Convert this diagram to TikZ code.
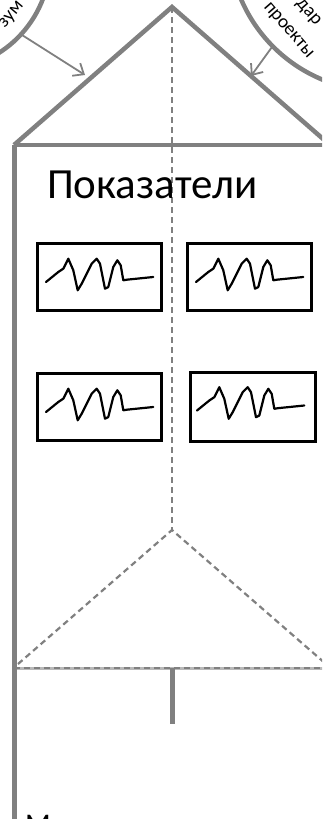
\documentclass[tikz,border=0pt]{standalone}
\usepackage{fontspec}
\setmainfont{Carlito}
\usetikzlibrary{arrows.meta}
\definecolor{wallgray}{RGB}{128,128,128}
\definecolor{palegray}{RGB}{185,185,185}
\tikzset{
  wall/.style={draw=wallgray, line width=5pt},
  roofline/.style={draw=wallgray, line width=4.5pt, line join=miter},
  fold/.style={draw=wallgray, line width=2.2pt, dash pattern=on 6pt off 4pt},
  ring/.style={draw=wallgray, line width=4.5pt},
  pointer/.style={draw=wallgray, line width=1.8pt, -{Straight Barb[length=9pt,width=15pt,line width=1.8pt]}},
  chartbox/.style={draw=black, line width=3pt, minimum width=124pt, minimum height=67pt, inner sep=0pt},
  ringtext/.style={font=\fontsize{19}{22}\selectfont, text=black, inner sep=0pt},
  wave/.pic={
    \draw[black, line width=2.2pt, line join=round, line cap=round]
      (10,40) -- (22.3,30) -- (27.3,26.7) -- (32.3,16.7) -- (37.3,28.3)
      -- (41.7,48.3) -- (45.7,41.7) -- (55.7,21.7) -- (60.7,16.7) -- (64,21.7)
      -- (69,46.7) -- (72.3,45) -- (77.3,25) -- (81.3,18.3) -- (84.7,23.3)
      -- (87.3,38.3) -- (90.7,37.7) -- (117.3,35);
  }
}
\begin{document}
\begin{tikzpicture}[x=1pt, y=-1pt]
\useasboundingbox (0,0) rectangle (322,819);
\clip (0,0) rectangle (322,819);

% key points of the house outline
\coordinate (apex) at (172,7);
\coordinate (eaveL) at (14,145);
\coordinate (eaveR) at (330,145);
\coordinate (foot) at (14,830);
\coordinate (fork) at (172,530);
\coordinate (forkL) at (18,664);
\coordinate (forkR) at (326,664);
\coordinate (floorL) at (14,668);
\coordinate (floorR) at (340,668);
\coordinate (floorC) at (172,668);
\coordinate (stub) at (172,724);

% the two rings at the top corners
\draw[ring] (-60,-40) circle[radius=110];
\draw[ring] (380,-60) circle[radius=151];
\node[ringtext, rotate=50] (lefttext) at (12,15) {зум};
\node[ringtext, rotate=-49] (righttop) at (308,13) {дар};
\node[ringtext, rotate=-49] (rightlow) at (288,31) {проекты};

% arrows from the rings onto the roof
\coordinate (srcL) at (22,35);
\coordinate (dstL) at (85,75);
\coordinate (srcR) at (272,47);
\coordinate (dstR) at (251,76);
\draw[pointer] (srcL) -- (dstL);
\draw[pointer] (srcR) -- (dstR);

% fold lines
\draw[fold] (apex) -- (fork);
\draw[fold] (forkL) -- (fork) -- (forkR);

% floor line: pale solid under a dashed stroke
\draw[draw=palegray, line width=3pt] (floorL) -- (floorR);
\draw[fold] (floorL) -- (floorR);
\draw[wall] (floorC) -- (stub);

% roof and walls
\draw[roofline] (eaveL) -- (apex) -- (eaveR);
\draw[roofline] (eaveL) -- (eaveR);
\draw[wall] (eaveL) -- (foot);

% heading
\node[anchor=base west, inner sep=0pt, font=\fontsize{43}{50}\selectfont] (title) at (47,198) {Показатели};

% indicator charts
\node[chartbox] (chartA) at (99.5,277) {};
\node[chartbox] (chartB) at (249.5,277) {};
\node[chartbox] (chartC) at (99.5,407) {};
\node[chartbox, minimum width=125pt, minimum height=69pt] (chartD) at (253,406.5) {};
\pic at (chartA.north west) {wave};
\pic at (chartB.north west) {wave};
\pic at (chartC.north west) {wave};
\pic at ([xshift=-2pt]chartD.north west) {wave};

% lower heading, cut by the page edge
\node[anchor=north west, inner sep=0pt, font=\fontsize{30}{36}\selectfont] (lower) at (25,815) {М};
\end{tikzpicture}
\end{document}
